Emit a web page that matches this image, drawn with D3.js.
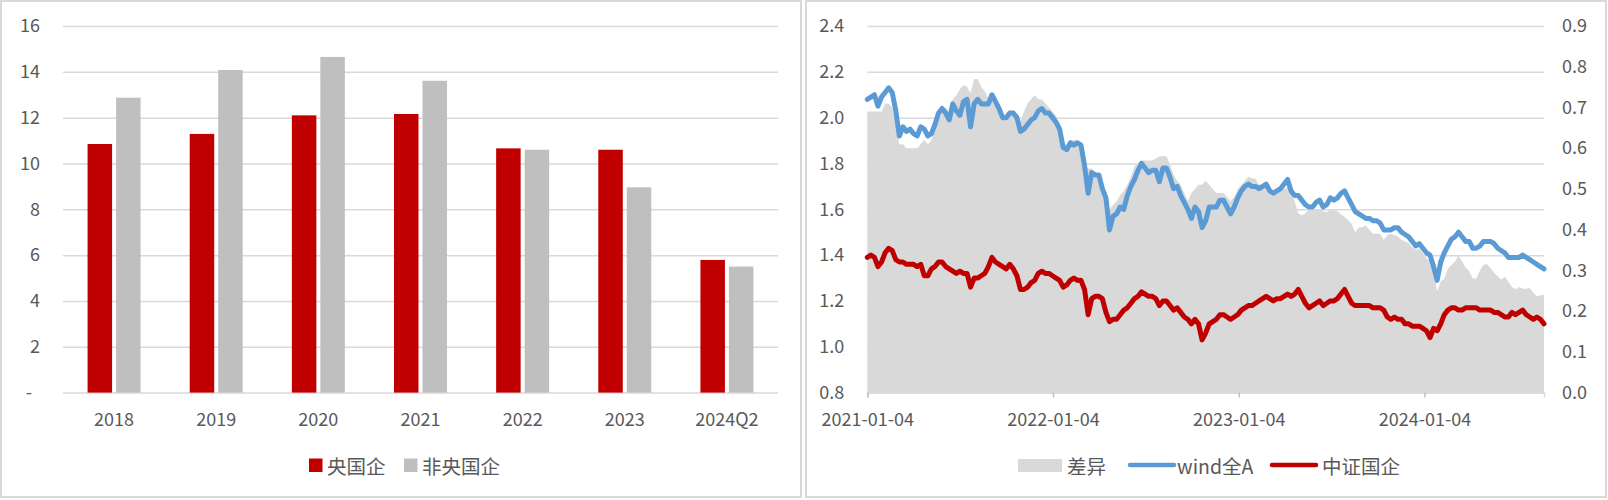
<!DOCTYPE html>
<html><head><meta charset="utf-8">
<script src="https://cdn.jsdelivr.net/npm/d3@7"></script>
<style>
html,body{margin:0;padding:0;background:#fff;}
svg text{font-family:"Noto Sans CJK SC","Open Sans",sans-serif;fill:#595959;}
</style></head><body>
<svg id="chart" width="1608" height="500"></svg>
<script>
// ---------- Left chart data ----------
const barCategories = ["2018","2019","2020","2021","2022","2023","2024Q2"];
const barSeriesNames = ["央国企","非央国企"];
const centralSOE = [10.85,11.29,12.10,12.16,10.66,10.60,5.79];
const nonCentralSOE = [12.87,14.08,14.65,13.61,10.60,8.96,5.50];
const barTicks = [0,2,4,6,8,10,12,14,16];

// ---------- Right chart data (weekly) ----------
const lineStart = "2021-01-04";
const lineEnd = "2024-08-26";
const dateTickLabels = ["2021-01-04","2022-01-04","2023-01-04","2024-01-04"];
const leftTicks = [0.8,1.0,1.2,1.4,1.6,1.8,2.0,2.2,2.4];
const rightTicks = [0,0.1,0.2,0.3,0.4,0.5,0.6,0.7,0.8,0.9];
const lineSeriesNames = ["差异","wind全A","中证国企"];
const windA = [
2.08,2.09,2.10,2.05,2.09,2.11,2.13,2.11,2.03,1.92,
1.96,1.94,1.95,1.93,1.92,1.96,1.95,1.92,1.93,1.97,
2.02,2.04,2.02,1.99,2.06,2.03,2.01,2.07,2.08,1.96,
2.06,2.08,2.06,2.06,2.06,2.10,2.07,2.04,2.00,2.00,
2.02,2.02,2.00,1.94,1.95,1.97,1.99,2.00,2.03,2.04,
2.02,2.02,2.00,1.98,1.95,1.87,1.86,1.89,1.88,1.89,
1.88,1.79,1.67,1.76,1.75,1.75,1.69,1.65,1.51,1.57,
1.58,1.61,1.60,1.66,1.70,1.73,1.77,1.80,1.78,1.76,
1.77,1.77,1.72,1.78,1.78,1.74,1.69,1.70,1.66,1.63,
1.60,1.56,1.61,1.59,1.52,1.55,1.61,1.61,1.61,1.64,
1.64,1.61,1.58,1.61,1.65,1.68,1.70,1.71,1.70,1.70,
1.69,1.70,1.71,1.68,1.67,1.68,1.69,1.71,1.73,1.68,
1.66,1.66,1.64,1.62,1.61,1.61,1.63,1.64,1.61,1.62,
1.65,1.64,1.65,1.67,1.68,1.65,1.62,1.59,1.58,1.57,
1.56,1.56,1.55,1.55,1.54,1.51,1.51,1.51,1.52,1.52,
1.50,1.49,1.48,1.46,1.44,1.45,1.43,1.41,1.40,1.35,
1.29,1.37,1.41,1.44,1.47,1.48,1.50,1.48,1.46,1.46,
1.43,1.43,1.44,1.46,1.46,1.46,1.45,1.43,1.42,1.41,
1.39,1.39,1.39,1.39,1.40,1.39,1.38,1.37,1.36,1.35,
1.34];
const csiSOE = [
1.39,1.40,1.39,1.35,1.37,1.41,1.43,1.42,1.38,1.37,
1.37,1.36,1.36,1.36,1.35,1.36,1.31,1.31,1.34,1.35,
1.37,1.37,1.35,1.34,1.33,1.32,1.33,1.32,1.32,1.26,
1.30,1.30,1.31,1.32,1.35,1.39,1.37,1.36,1.35,1.34,
1.36,1.34,1.31,1.25,1.25,1.26,1.28,1.29,1.32,1.33,
1.32,1.32,1.31,1.30,1.29,1.26,1.27,1.29,1.30,1.29,
1.29,1.25,1.14,1.21,1.22,1.22,1.21,1.15,1.11,1.12,
1.12,1.14,1.16,1.17,1.19,1.21,1.22,1.24,1.23,1.22,
1.22,1.21,1.18,1.20,1.20,1.18,1.16,1.17,1.15,1.13,
1.12,1.10,1.12,1.10,1.03,1.06,1.10,1.11,1.12,1.14,
1.14,1.13,1.12,1.13,1.14,1.16,1.17,1.18,1.18,1.19,
1.20,1.21,1.22,1.21,1.20,1.21,1.21,1.22,1.23,1.22,
1.23,1.25,1.22,1.19,1.17,1.18,1.19,1.20,1.18,1.19,
1.20,1.20,1.21,1.23,1.25,1.22,1.19,1.18,1.18,1.18,
1.18,1.18,1.17,1.17,1.17,1.16,1.13,1.12,1.13,1.12,
1.12,1.10,1.10,1.09,1.09,1.09,1.08,1.07,1.04,1.08,
1.07,1.10,1.14,1.16,1.17,1.17,1.16,1.16,1.17,1.17,
1.17,1.17,1.16,1.16,1.16,1.16,1.15,1.15,1.14,1.13,
1.13,1.15,1.14,1.15,1.16,1.14,1.13,1.12,1.13,1.12,
1.10];
const spread = [
0.69,0.69,0.69,0.69,0.69,0.71,0.71,0.70,0.66,0.61,
0.61,0.60,0.60,0.60,0.60,0.61,0.62,0.61,0.62,0.65,
0.67,0.69,0.70,0.69,0.72,0.73,0.745,0.755,0.75,0.735,
0.77,0.77,0.75,0.74,0.72,0.72,0.71,0.69,0.67,0.68,
0.69,0.68,0.68,0.665,0.69,0.71,0.72,0.73,0.72,0.72,
0.71,0.70,0.69,0.68,0.65,0.61,0.61,0.62,0.62,0.62,
0.61,0.56,0.55,0.55,0.54,0.53,0.51,0.48,0.45,0.46,
0.47,0.485,0.495,0.51,0.53,0.555,0.563,0.57,0.57,0.57,
0.57,0.575,0.58,0.58,0.58,0.56,0.535,0.52,0.51,0.49,
0.47,0.49,0.50,0.51,0.51,0.52,0.51,0.50,0.49,0.49,
0.49,0.48,0.47,0.48,0.50,0.51,0.52,0.53,0.526,0.525,
0.51,0.51,0.51,0.50,0.49,0.49,0.50,0.50,0.505,0.49,
0.47,0.44,0.435,0.44,0.45,0.45,0.45,0.45,0.445,0.443,
0.448,0.448,0.445,0.437,0.432,0.424,0.414,0.393,0.406,0.406,
0.41,0.40,0.39,0.39,0.39,0.375,0.387,0.39,0.387,0.383,
0.375,0.371,0.367,0.357,0.35,0.353,0.342,0.33,0.322,0.297,
0.248,0.273,0.28,0.304,0.313,0.322,0.336,0.322,0.307,0.298,
0.28,0.28,0.30,0.314,0.315,0.305,0.294,0.286,0.277,0.285,
0.272,0.259,0.254,0.259,0.255,0.255,0.257,0.246,0.236,0.239,
0.24];

// ---------- Styles ----------
const RED = "#c00000", GREY_BAR = "#bfbfbf", GRID = "#d9d9d9", AREA = "#d9d9d9", BLUE = "#5b9bd5";
const AXIS_FS = 18, LEG_FS = 19.5;
const svg = d3.select("#chart");

// panel borders
svg.append("rect").attr("x",1).attr("y",1).attr("width",800).attr("height",496)
  .attr("fill","#fff").attr("stroke","#d9d9d9").attr("stroke-width",2);
svg.append("rect").attr("x",806).attr("y",1).attr("width",800).attr("height",496)
  .attr("fill","#fff").attr("stroke","#d9d9d9").attr("stroke-width",2);

function styleAxis(g){
  g.select(".domain").remove();
  g.selectAll("text").attr("font-size",AXIS_FS).style("fill","#595959")
    .attr("font-family","\"Noto Sans CJK SC\",\"Open Sans\",sans-serif");
}

// ================= LEFT BAR CHART =================
(function(){
  const L = 63, R = 778, T = 26, B = 392.6;
  const x0 = d3.scaleBand().domain(barCategories).range([L,R]).padding(0);
  const groupW = 53;
  const x1 = d3.scaleBand().domain(barSeriesNames).range([0,groupW]).paddingInner(0.14);
  const y = d3.scaleLinear().domain([0,16]).range([B,T]);

  const grid = svg.append("g").attr("transform",`translate(${L},0)`)
    .call(d3.axisLeft(y).tickValues(barTicks).tickSize(-(R-L)).tickFormat(""));
  grid.select(".domain").remove();
  grid.selectAll("line").attr("stroke",GRID).attr("stroke-width",1.5);

  const ya = svg.append("g").attr("transform",`translate(${L},0)`)
    .call(d3.axisLeft(y).tickValues(barTicks).tickSize(0).tickPadding(23)
      .tickFormat(d => d === 0 ? "-\u00a0\u00a0" : d3.format("d")(d)));
  styleAxis(ya);

  const xa = svg.append("g").attr("transform",`translate(0,${B})`)
    .call(d3.axisBottom(x0).tickSize(0).tickPadding(21));
  styleAxis(xa);

  const rows = barCategories.map((c,i)=>({cat:c, vals:[centralSOE[i], nonCentralSOE[i]]}));
  const colors = d3.scaleOrdinal().domain(barSeriesNames).range([RED, GREY_BAR]);
  const off = (x0.bandwidth()-groupW)/2;
  svg.append("g").selectAll("g").data(rows).join("g")
    .attr("transform", d => `translate(${x0(d.cat)+off},0)`)
    .selectAll("rect").data(d => barSeriesNames.map((s,j)=>({s, v:d.vals[j]}))).join("rect")
    .attr("x", d => x1(d.s)).attr("width", x1.bandwidth())
    .attr("y", d => y(d.v)).attr("height", d => y(0)-y(d.v))
    .attr("fill", d => colors(d.s));

  const leg = [{x:309, name:barSeriesNames[0]},{x:404, name:barSeriesNames[1]}];
  leg.forEach(l=>{
    svg.append("rect").attr("x",l.x).attr("y",458.5).attr("width",13.5).attr("height",13.5).attr("fill",colors(l.name));
    svg.append("text").attr("x",l.x+18).attr("y",465).attr("dominant-baseline","central")
      .attr("font-size",LEG_FS).text(l.name);
  });
})();

// ================= RIGHT LINE CHART =================
(function(){
  const L = 867.3, R = 1544, T = 26, B = 392.6;
  const parse = d3.timeParse("%Y-%m-%d");
  const dates = d3.timeMonday.range(parse(lineStart), d3.timeDay.offset(parse(lineEnd),1));
  const n = Math.min(dates.length, windA.length, csiSOE.length, spread.length);
  const data = d3.range(n).map(i=>({d:dates[i], a:windA[i], s:csiSOE[i], g:spread[i]}));

  const x = d3.scaleTime().domain([parse(lineStart), parse(lineEnd)]).range([L,R]);
  const yL = d3.scaleLinear().domain([0.8,2.4]).range([B,T]);
  const yR = d3.scaleLinear().domain([0,0.9]).range([B,T]);

  const grid = svg.append("g").attr("transform",`translate(${L},0)`)
    .call(d3.axisLeft(yL).tickValues(leftTicks).tickSize(-(R-L)).tickFormat(""));
  grid.select(".domain").remove();
  grid.selectAll("line").attr("stroke",GRID).attr("stroke-width",1.5);

  svg.append("path").datum(data)
    .attr("d", d3.area().x(d=>x(d.d)).y0(yR(0)).y1(d=>yR(d.g)))
    .attr("fill", AREA);

  const yla = svg.append("g").attr("transform",`translate(${L},0)`)
    .call(d3.axisLeft(yL).tickValues(leftTicks).tickSize(0).tickPadding(23).tickFormat(d3.format(".1f")));
  styleAxis(yla);
  const yra = svg.append("g").attr("transform",`translate(${R},0)`)
    .call(d3.axisRight(yR).tickValues(rightTicks).tickSize(0).tickPadding(18).tickFormat(d3.format(".1f")));
  styleAxis(yra);
  const xa = svg.append("g").attr("transform",`translate(0,${B})`)
    .call(d3.axisBottom(x).tickValues(dateTickLabels.map(parse)).tickSize(5).tickPadding(16)
      .tickFormat(d3.timeFormat("%Y-%m-%d")));
  xa.select(".domain").attr("stroke",GRID).attr("stroke-width",1.5);
  xa.selectAll("line").attr("stroke","#bfbfbf").attr("stroke-width",1.5);
  xa.selectAll("text").attr("font-size",AXIS_FS).style("fill","#595959");

  svg.append("path").datum(data)
    .attr("d", d3.line().x(d=>x(d.d)).y(d=>yL(d.a)))
    .attr("fill","none").attr("stroke",BLUE).attr("stroke-width",5)
    .attr("stroke-linejoin","round").attr("stroke-linecap","round");
  svg.append("path").datum(data)
    .attr("d", d3.line().x(d=>x(d.d)).y(d=>yL(d.s)))
    .attr("fill","none").attr("stroke",RED).attr("stroke-width",5)
    .attr("stroke-linejoin","round").attr("stroke-linecap","round");

  svg.append("rect").attr("x",1018).attr("y",459).attr("width",44).attr("height",13).attr("fill",AREA);
  svg.append("text").attr("x",1067).attr("y",465).attr("dominant-baseline","central").attr("font-size",LEG_FS).text(lineSeriesNames[0]);
  svg.append("line").attr("x1",1130).attr("x2",1174).attr("y1",465).attr("y2",465)
    .attr("stroke",BLUE).attr("stroke-width",4.5).attr("stroke-linecap","round");
  svg.append("text").attr("x",1177).attr("y",465).attr("dominant-baseline","central").attr("font-size",LEG_FS).text(lineSeriesNames[1]);
  svg.append("line").attr("x1",1272).attr("x2",1316).attr("y1",465).attr("y2",465)
    .attr("stroke",RED).attr("stroke-width",4.5).attr("stroke-linecap","round");
  svg.append("text").attr("x",1322).attr("y",465).attr("dominant-baseline","central").attr("font-size",LEG_FS).text(lineSeriesNames[2]);
})();
</script>
</body></html>
